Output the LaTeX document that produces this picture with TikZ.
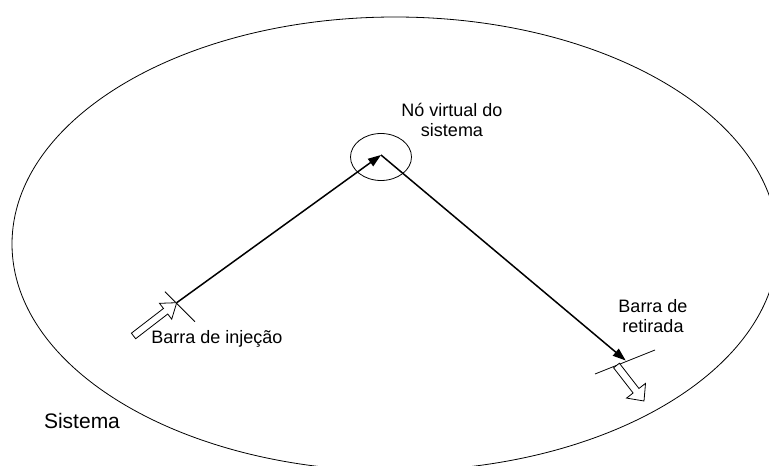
\documentclass[tikz,border=0pt]{standalone}
\usepackage{fontspec}
\setmainfont{Liberation Sans}
\usetikzlibrary{arrows.meta,shapes.geometric}
\begin{document}
\begin{tikzpicture}[x=1pt,y=-1pt,
  lbl/.style={font=\fontsize{18}{20}\selectfont, align=center, inner sep=0pt},
  flow/.style={line width=1.5pt, -{Triangle[length=13pt,width=9pt]}},
  thinline/.style={line width=0.8pt},
  hollow/.style={draw, line width=0.8pt, fill=white, line join=miter}]
\useasboundingbox (0,0) rectangle (769,466);
\begin{scope}
  \clip (0,0) rectangle (769,466);
  \draw[thinline] (395,244) ellipse [x radius=383, y radius=227];
\end{scope}

\node[draw, ellipse, thinline, minimum width=61pt, minimum height=47pt, inner sep=0pt] (vn) at (381,157) {};
\coordinate (vc) at (381,155);

\coordinate (inj) at (176.7,302.7);
\coordinate (ret) at (625.7,360.5);
\coordinate (injA) at (165,291.7);
\coordinate (injB) at (195,321.7);
\coordinate (retA) at (595,374);
\coordinate (retB) at (655,350);
\coordinate (rettip) at (644,401);

\draw[flow] (inj) -- (vc);
\draw[flow] (vc) -- (ret);
\draw[thinline] (injA) -- (injB);
\draw[thinline] (retA) -- (retB);

\begin{scope}[shift={(inj)}, rotate=37.6]
  \draw[hollow] (0,0) -- (-14,10) -- (-14,3.5) -- (-54.5,3.5) -- (-54.5,-3.5) -- (-14,-3.5) -- (-14,-10) -- cycle;
\end{scope}
\begin{scope}[shift={(rettip)}, rotate=-52.2]
  \draw[hollow] (0,0) -- (-13,12) -- (-13,3.7) -- (-44.9,3.7) -- (-44.9,-3.7) -- (-13,-3.7) -- (-13,-12) -- cycle;
\end{scope}

\node[lbl] (lvn) at (452,120) {Nó virtual do\\sistema};
\node[lbl] (linj) at (217,339) {Barra de injeção};
\node[lbl] (lret) at (653,316) {Barra de\\retirada};
\node[lbl, font=\fontsize{21}{24}\selectfont] (lsis) at (82,421) {Sistema};
\end{tikzpicture}
\end{document}
